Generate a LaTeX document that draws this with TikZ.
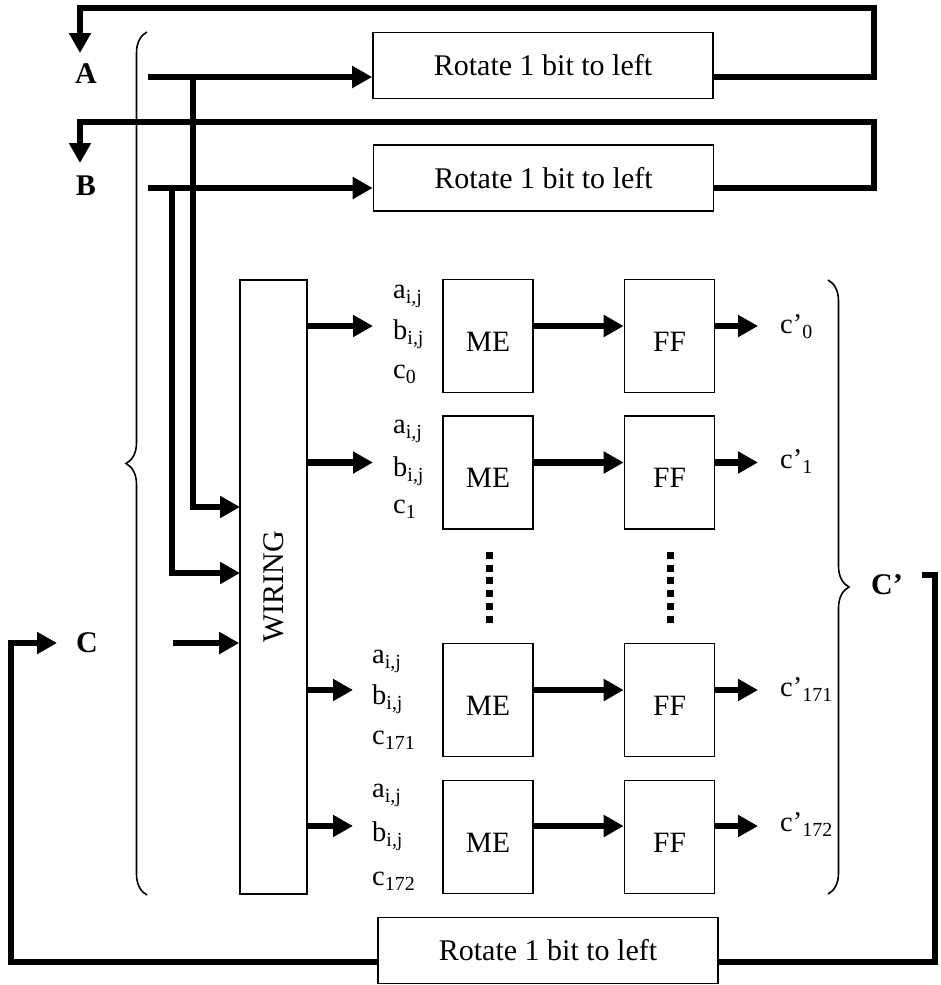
\documentclass[tikz,border=0pt]{standalone}
\usepackage{fontspec}
\setmainfont{Liberation Serif}
\usetikzlibrary{arrows.meta,decorations.pathreplacing}
\newcommand\myfs{\fontsize{30}{36}\selectfont}
\newcommand\mymefs{\fontsize{29.5}{36}\selectfont}
\newcommand\mylfs{\fontsize{28.5}{34}\selectfont}
\newcommand\mybf{\fontsize{30}{36}\selectfont\bfseries}
\begin{document}
\begin{tikzpicture}[x=1pt,y=-1pt,
  wire/.style={line width=6.8pt, line join=miter},
  arr/.style={wire, -{Triangle[length=20pt,width=21pt]}},
  box/.style={draw, line width=1.6pt, inner sep=0pt},
  rot/.style={box, minimum width=340pt, minimum height=66pt, font=\myfs},
  me/.style={box, minimum width=90pt, minimum height=113pt, text height=30pt, text depth=0pt, font=\mymefs},
  lbl/.style={font=\mylfs, anchor=base west, inner sep=0pt},
  big/.style={font=\mybf, inner sep=0pt},
  brace/.style={decorate, decoration={brace, amplitude=21pt}, line width=1.6pt},
  dots/.style={line width=7pt, dash pattern=on 7pt off 5.7pt}
]
\useasboundingbox (0,0) rectangle (940,985);

% rotate boxes
\node[rot] (rotA) at (543,65.5) {Rotate 1 bit to left};
\node[rot] (rotB) at (543.5,178) {Rotate 1 bit to left};
\node[rot] (rotC) at (548,950.5) {Rotate 1 bit to left};

% letters
\node[big] (A) at (86,74) {A};
\node[big] (B) at (86,185.5) {B};
\node[big] (C) at (87,643) {C};
\node[big] (Cp) at (887,585) {C’};

% wiring box
\node[box, minimum width=67pt, minimum height=614pt,
  label={[rotate=90, font=\myfs, text height=20pt, text depth=0pt, inner sep=0pt]center:WIRING}]
  (wiring) at (273.5,587) {};

% ME and FF boxes
\node[me] (me1) at (488,336) {ME};
\node[me] (me2) at (488,472.5) {ME};
\node[me] (me3) at (488,700) {ME};
\node[me] (me4) at (488,837) {ME};
\node[me] (ff1) at (669.5,336) {FF};
\node[me] (ff2) at (669.5,472.5) {FF};
\node[me] (ff3) at (669.5,700) {FF};
\node[me] (ff4) at (669.5,837) {FF};

% input labels
\node[lbl] (a1) at (393,298.5) {a\textsubscript{i,j}};
\node[lbl] (b1) at (393,339.5) {b\textsubscript{i,j}};
\node[lbl] (c1) at (393,378.5) {c\textsubscript{0}};
\node[lbl] (a2) at (393,433.5) {a\textsubscript{i,j}};
\node[lbl] (b2) at (393,476.5) {b\textsubscript{i,j}};
\node[lbl] (c2) at (393,513.5) {c\textsubscript{1}};
\node[lbl] (a3) at (372,663.5) {a\textsubscript{i,j}};
\node[lbl] (b3) at (372,704.5) {b\textsubscript{i,j}};
\node[lbl] (c3) at (372,744.5) {c\textsubscript{171}};
\node[lbl] (a4) at (372,797.5) {a\textsubscript{i,j}};
\node[lbl] (b4) at (372,841.5) {b\textsubscript{i,j}};
\node[lbl] (c4) at (372,885.5) {c\textsubscript{172}};

% output labels
\node[lbl] (o1) at (780,333.5) {c’\textsubscript{0}};
\node[lbl] (o2) at (780,468.5) {c’\textsubscript{1}};
\node[lbl] (o3) at (780,696.5) {c’\textsubscript{171}};
\node[lbl] (o4) at (780,831.5) {c’\textsubscript{172}};

% coordinates
\coordinate (aOut) at (148,77);
\coordinate (aBr) at (193,77);
\coordinate (aIn) at (80,53);
\coordinate (aTop) at (80,8);
\coordinate (aR) at (874,77);
\coordinate (bOut) at (148,188);
\coordinate (bBr) at (172,188);
\coordinate (bIn) at (80,163);
\coordinate (bTop) at (80,122);
\coordinate (bR) at (874,188);
\coordinate (aW) at (240,507);
\coordinate (bW) at (240,573);
\coordinate (cIn) at (57,643);
\coordinate (cOut) at (173,643);
\coordinate (cpOut) at (922,575);
\coordinate (cRt) at (935,962);
\coordinate (cLf) at (11,962);
\coordinate (r1) at (0,326);
\coordinate (r2) at (0,462.5);
\coordinate (r3) at (0,690);
\coordinate (r4) at (0,826);
\coordinate (w1) at (373,326);
\coordinate (w2) at (373,462.5);
\coordinate (w3) at (353,690);
\coordinate (w4) at (353,826);
\coordinate (t1) at (758,326);
\coordinate (t2) at (758,462.5);
\coordinate (t3) at (758,690);
\coordinate (t4) at (758,826);

% A path
\draw[arr] (aOut) -- (rotA.west |- aOut);
\draw[arr] (rotA.east |- aOut) -- (aR) |- (aTop) -- (aIn);
\draw[arr] (aBr) |- (aW);
% B path
\draw[arr] (bOut) -- (rotB.west |- bOut);
\draw[arr] (rotB.east |- bOut) -- (bR) |- (bTop) -- (bIn);
\draw[arr] (bBr) |- (bW);
% C path
\draw[arr] (cOut) -- (wiring.west |- cOut);
\draw[wire] (cpOut) -| (cRt) -- (rotC.east |- cRt);
\draw[arr] (rotC.west |- cRt) -- (cLf) |- (cIn);

% rows
\foreach \i in {1,2,3,4}{
  \draw[arr] (wiring.east |- r\i) -- (w\i);
  \draw[arr] (me\i.east |- r\i) -- (ff\i.west |- r\i);
  \draw[arr] (ff\i.east |- r\i) -- (t\i);
}

% dots
\draw[dots] (489,552) -- (489,623);
\draw[dots] (670,552) -- (670,623);

% braces
\draw[brace] (147,895) -- (147,32);
\draw[brace] (828,280) -- (828,894);
\end{tikzpicture}
\end{document}
